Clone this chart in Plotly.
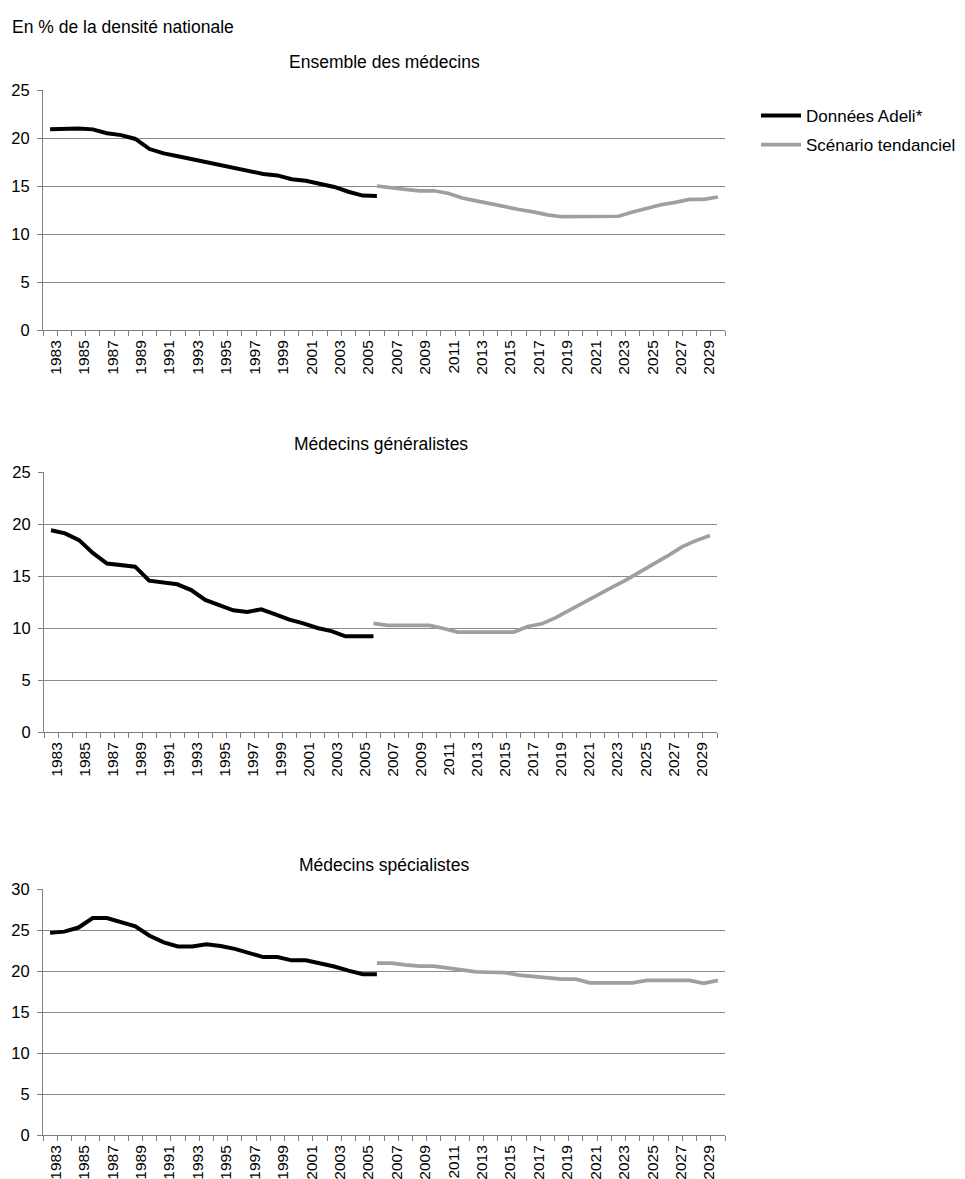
import plotly.graph_objects as go

# ---------------- data ----------------
years_adeli = list(range(1983, 2007))
years_scen = list(range(2006, 2031))
tick_years = list(range(1983, 2031, 2))
tick_text = [str(y) for y in tick_years]

panel_titles = ["Ensemble des médecins", "Médecins généralistes", "Médecins spécialistes"]
series_names = ["Données Adeli*", "Scénario tendanciel"]
main_title = "En % de la densité nationale"

ens_adeli = [20.9, 21.0, 21.0, 20.9, 20.5, 20.3, 19.9, 18.85, 18.4, 18.1, 17.8, 17.4,
             17.1, 16.8, 16.5, 16.25, 16.1, 15.7, 15.55, 15.2, 14.9, 14.4, 14.0, 13.95]
ens_scen = [15.0, 14.8, 14.65, 14.5, 14.5, 14.25, 13.75, 13.45, 13.15, 12.8, 12.55, 12.3,
            12.0, 11.8, 11.8, 11.8, 11.8, 11.85, 12.3, 12.7, 13.05, 13.3, 13.6, 13.6, 13.85]

gen_adeli = [19.4, 19.1, 18.45, 17.2, 16.2, 16.05, 15.9, 14.55, 14.35, 14.2, 13.65, 12.7,
             12.2, 11.7, 11.55, 11.8, 11.3, 10.8, 10.45, 10.0, 9.7, 9.2, 9.2, 9.2]
gen_scen = [10.45, 10.25, 10.25, 10.25, 10.25, 9.95, 9.6, 9.6, 9.6, 9.6, 9.6, 10.15,
            10.4, 11.0, 11.75, 12.5, 13.15, 13.9, 14.6, 15.35, 16.1, 16.95, 17.8, 18.4, 18.9]

spe_adeli = [24.65, 24.8, 25.3, 26.45, 26.45, 25.95, 25.45, 24.3, 23.5, 23.0, 23.0, 23.25,
             23.05, 22.7, 22.15, 21.7, 21.7, 21.3, 21.3, 20.95, 20.55, 20.05, 19.6, 19.6]
spe_scen = [20.95, 20.95, 20.75, 20.6, 20.6, 20.4, 20.1, 19.9, 19.85, 19.8, 19.5, 19.3,
            19.15, 19.0, 19.0, 18.55, 18.55, 18.55, 18.55, 18.85, 18.85, 18.85, 18.85, 18.5, 18.85]

y_max = [25, 25, 30]

# ---------------- layout helpers ----------------
PAGE_W, PAGE_H = 965, 1179
OFF = 8  # default body margin of the html page
W, H = PAGE_W - OFF, PAGE_H - OFF
FONT = "Liberation Sans, Arial, sans-serif"
BLACK = "#000000"
GRAY = "#9d9fa2"
GRID = "#8a8a8a"
AXIS = "#7f7f7f"
LABEL_SHIFT = 0.4  # rotated labels sit slightly right of the category centre, as in the source


def px(xp):
    return (xp - OFF) / W


def py(yp):
    return 1 - (yp - OFF) / H


# pixel boxes on the page (x0, x1, ytop, ybottom)
boxes = [(43, 725, 90, 330), (44, 717, 472, 732), (43, 725, 889, 1135)]
title_y = [62, 444, 865]

fig = go.Figure()

data = [(ens_adeli, ens_scen), (gen_adeli, gen_scen), (spe_adeli, spe_scen)]
for i, (a, s) in enumerate(data):
    ax = "" if i == 0 else str(i + 1)
    fig.add_trace(go.Scatter(x=years_adeli, y=a, mode="lines", name=series_names[0],
                             legendgroup="adeli", showlegend=(i == 0),
                             line=dict(color=BLACK, width=4),
                             xaxis="x" + ax, yaxis="y" + ax))
    fig.add_trace(go.Scatter(x=years_scen, y=s, mode="lines", name=series_names[1],
                             legendgroup="scen", showlegend=(i == 0),
                             line=dict(color=GRAY, width=3.7),
                             xaxis="x" + ax, yaxis="y" + ax))

annotations = [dict(text=main_title, x=px(10), y=py(27), xref="paper", yref="paper",
                    xanchor="left", yanchor="middle", showarrow=False,
                    font=dict(size=17.5, color=BLACK, family=FONT))]

layout = {}
for i, (x0, x1, yt, yb) in enumerate(boxes):
    k = "" if i == 0 else str(i + 1)
    layout["xaxis" + k] = dict(
        domain=[px(x0), px(x1)], anchor="y" + k, range=[1982.5, 2030.5],
        tickmode="array", tickvals=[y + LABEL_SHIFT for y in tick_years], ticktext=tick_text,
        tickangle=-90,
        ticks="", showgrid=False, zeroline=False, showline=True, linecolor=AXIS, linewidth=1,
        tickfont=dict(size=15.5, color=BLACK, family=FONT), ticklabelstandoff=3,
        minor=dict(ticks="outside", tick0=1982.5, dtick=1, ticklen=5, tickcolor=AXIS,
                   tickwidth=1, showgrid=False),
        fixedrange=True)
    layout["yaxis" + k] = dict(
        domain=[py(yb), py(yt)], anchor="x" + k, range=[0, y_max[i]],
        tickmode="linear", tick0=0, dtick=5, ticks="outside", ticklen=5, tickcolor=AXIS,
        showgrid=True, gridcolor=GRID, gridwidth=1, zeroline=False,
        showline=True, linecolor=AXIS, linewidth=1,
        tickfont=dict(size=16.5, color=BLACK, family=FONT), ticklabelstandoff=4,
        fixedrange=True)
    annotations.append(dict(text=panel_titles[i], x=px((x0 + x1) / 2), y=py(title_y[i]),
                            xref="paper", yref="paper", xanchor="center", yanchor="middle",
                            showarrow=False, font=dict(size=17.5, color=BLACK, family=FONT)))

fig.update_layout(
    width=W, height=H, margin=dict(l=0, r=0, t=0, b=0, autoexpand=False),
    paper_bgcolor="white", plot_bgcolor="white",
    font=dict(family=FONT, size=17, color=BLACK),
    showlegend=True,
    legend=dict(x=px(756), y=py(98), xanchor="left", yanchor="top",
                traceorder="grouped", tracegroupgap=4, itemwidth=40,
                bgcolor="rgba(0,0,0,0)", font=dict(size=17, color=BLACK, family=FONT)),
    annotations=annotations,
    **layout,
)

fig.write_html("out.html")
